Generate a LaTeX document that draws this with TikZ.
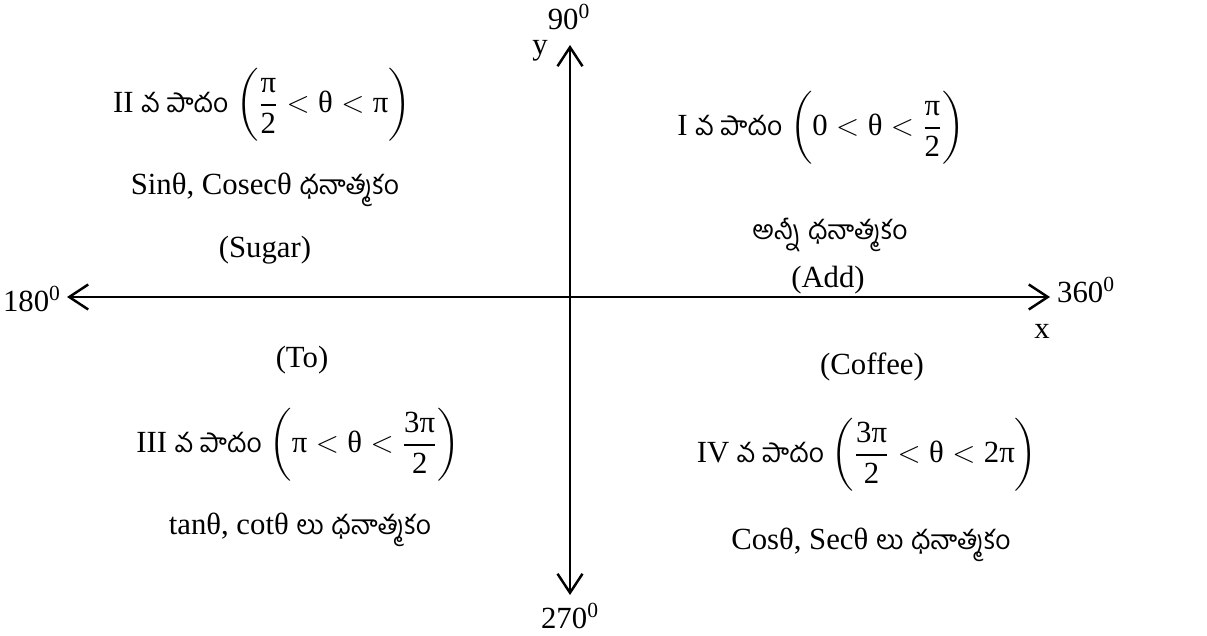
\documentclass[tikz,border=0pt]{standalone}
\usepackage{amsmath}
\usepackage{fontspec}
\setmainfont{Liberation Serif}
\newfontfamily\telugu[Script=Telugu,Scale=0.86]{Hind Guntur}
\usetikzlibrary{arrows.meta}
\newcommand{\up}[1]{\text{#1}}
\newcommand{\dg}[1]{#1\textsuperscript{0}}
\newcommand{\pada}{{\telugu వ పాదం}}
\newcommand{\dhana}{{\telugu ధనాత్మకం}}
\newcommand{\bigpar}{\rule[-1.05em]{0pt}{2.6em}}

\begin{document}
\begin{tikzpicture}[>={Straight Barb[length=3.8mm,width=5mm]},
  axis/.style={line width=1.4pt, <->},
  lbl/.style={font=\fontsize{17.5}{21}\selectfont, inner sep=1pt}]
  \useasboundingbox (0,0) rectangle (24.14,12.7);
  % axes
  \coordinate (left) at (1.34,6.76);
  \coordinate (right) at (21.0,6.76);
  \coordinate (top) at (11.4,11.8);
  \coordinate (bottom) at (11.4,0.8);
  \draw[axis] (left) -- (right);
  \draw[axis] (bottom) -- (top);
  \node[lbl] (d90) at (11.38,12.36) {\dg{90}};
  \node[lbl] (ylab) at (10.8,11.68) {y};
  \node[lbl] (d180) at (0.64,6.72) {\dg{180}};
  \node[lbl] (d360) at (21.72,6.9) {\dg{360}};
  \node[lbl] (xlab) at (20.84,6.08) {x};
  \node[lbl] (d270) at (11.4,0.38) {\dg{270}};
  % quadrant I
  \node[lbl] (q1a) at (16.42,10.14) {I \pada\ $\left(\bigpar\up{0} < \up{θ} < \dfrac{\up{π}}{\up{2}}\right)$};
  \node[lbl] (q1b) at (16.6,8.0) {{\telugu అన్నీ} \dhana};
  \node[lbl] (q1c) at (16.56,7.1) {(Add)};
  % quadrant II
  \node[lbl] (q2a) at (5.24,10.6) {II \pada\ $\left(\bigpar\dfrac{\up{π}}{\up{2}} < \up{θ} < \up{π}\right)$};
  \node[lbl] (q2b) at (5.3,8.9) {Sinθ, Cosecθ \dhana};
  \node[lbl] (q2c) at (5.3,7.7) {(Sugar)};
  % quadrant III
  \node[lbl] (q3a) at (6.04,5.5) {(To)};
  \node[lbl] (q3b) at (5.96,3.8) {III \pada\ $\left(\bigpar\up{π} < \up{θ} < \dfrac{\up{3π}}{\up{2}}\right)$};
  \node[lbl] (q3c) at (6.0,2.1) {tanθ, cotθ {\telugu లు} \dhana};
  % quadrant IV
  \node[lbl] (q4a) at (17.44,5.36) {(Coffee)};
  \node[lbl] (q4b) at (17.34,3.6) {IV \pada\ $\left(\bigpar\dfrac{\up{3π}}{\up{2}} < \up{θ} < \up{2π}\right)$};
  \node[lbl] (q4c) at (17.42,1.8) {Cosθ, Secθ {\telugu లు} \dhana};
\end{tikzpicture}
\end{document}
